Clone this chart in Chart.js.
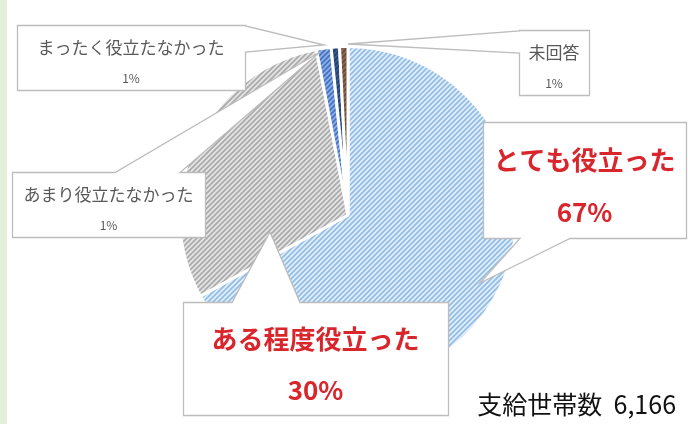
<!DOCTYPE html>
<html>
<head>
<meta charset="utf-8">
<script src="https://cdn.jsdelivr.net/npm/chart.js@4.4.1/dist/chart.umd.min.js"></script>
<style>
body { margin: 0; background: #fff; }
#wrap { position: relative; width: 688px; height: 424px; background: #fff; }
#strip { position: absolute; left: 0; top: 0; width: 7px; height: 424px; background: #e2efda; }
</style>
</head>
<body>
<div id="wrap">
  <div id="strip"></div>
  <canvas id="pie-chartcanvas"></canvas>
</div>
<script>
// data
var categories = ["とても役立った", "ある程度役立った", "あまり役立たなかった", "まったく役立たなかった", "未回答"];
var shares = [67, 30, 1.4, 0.8, 0.8];
var totalLabel = "支給世帯数  6,166";

// striped fill like the excel pattern
function hatch(bg, fg, size, lw) {
    var c = document.createElement("canvas");
    c.width = size;
    c.height = size;
    var g = c.getContext("2d");
    g.fillStyle = bg;
    g.fillRect(0, 0, size, size);
    g.strokeStyle = fg;
    g.lineWidth = lw;
    g.beginPath();
    g.moveTo(-1, size + 1); g.lineTo(size + 1, -1);
    g.moveTo(-size / 2 - 1, size / 2 + 1); g.lineTo(size / 2 + 1, -size / 2 - 1);
    g.moveTo(size / 2 - 1, size * 1.5 + 1); g.lineTo(size * 1.5 + 1, size / 2 - 1);
    g.stroke();
    return g.createPattern(c, "repeat");
}

var fills = [
    hatch("#e2eef9", "#92bde6", 5, 1.7),
    hatch("#e4e4e4", "#aaaaaa", 5, 1.7),
    hatch("#8eaee3", "#4472c4", 5, 1.7),
    hatch("#3a5c94", "#22406f", 5, 1.7),
    hatch("#8a6a55", "#6b4a35", 5, 1.7)
];

// callout boxes (box, pointer side, pointer base, pointer tip)
var callouts = [
    { i: 3, x: 17, y: 25, w: 228, h: 65, side: "right", a: 26, b: 52, tip: [324, 45], big: false },
    { i: 4, x: 519, y: 30, w: 70, h: 65, side: "left", a: 31, b: 53, tip: [348, 44], big: false },
    { i: 2, x: 12, y: 172, w: 193, h: 65, side: "top", a: 115, b: 180, tip: [320, 52], big: false },
    { i: 0, x: 483, y: 122, w: 203, h: 116, side: "bottom", a: 520, b: 570, tip: [480, 283], big: true },
    { i: 1, x: 183, y: 302, w: 265, h: 113, side: "top", a: 232, b: 300, tip: [270, 232], big: true }
];

function calloutPath(ctx, c) {
    var x = c.x + 0.5, y = c.y + 0.5, r = c.x + c.w + 0.5, btm = c.y + c.h + 0.5;
    ctx.beginPath();
    ctx.moveTo(x, y);
    if (c.side === "top") { ctx.lineTo(c.a, y); ctx.lineTo(c.tip[0], c.tip[1]); ctx.lineTo(c.b, y); }
    ctx.lineTo(r, y);
    if (c.side === "right") { ctx.lineTo(r, c.a); ctx.lineTo(c.tip[0], c.tip[1]); ctx.lineTo(r, c.b); }
    ctx.lineTo(r, btm);
    if (c.side === "bottom") { ctx.lineTo(c.b, btm); ctx.lineTo(c.tip[0], c.tip[1]); ctx.lineTo(c.a, btm); }
    ctx.lineTo(x, btm);
    if (c.side === "left") { ctx.lineTo(x, c.b); ctx.lineTo(c.tip[0], c.tip[1]); ctx.lineTo(x, c.a); }
    ctx.closePath();
}

var calloutPlugin = {
    id: "callouts",
    afterDraw: function(chart) {
        var ctx = chart.ctx;
        ctx.save();
        callouts.forEach(function(c) {
            calloutPath(ctx, c);
            ctx.fillStyle = "#ffffff";
            ctx.fill();
            ctx.strokeStyle = "#bdbdbd";
            ctx.lineWidth = 1.3;
            ctx.stroke();

            var cx = c.x + c.w / 2;
            var pct = Math.round(shares[c.i]) + "%";
            ctx.textAlign = "center";
            ctx.textBaseline = "middle";
            if (c.big) {
                ctx.fillStyle = "#d9262d";
                ctx.font = "bold 26px 'Noto Sans CJK JP'";
                ctx.fillText(categories[c.i], cx, c.y + c.h * 0.33);
                ctx.fillText(pct, cx, c.y + c.h * 0.78);
            } else {
                ctx.fillStyle = "#595959";
                ctx.font = "17px 'Noto Sans CJK JP'";
                ctx.fillText(categories[c.i], cx, c.y + c.h * 0.34);
                ctx.font = "12px 'Noto Sans CJK JP'";
                ctx.fillText(pct, cx, c.y + c.h * 0.82);
            }
        });

        // household count
        ctx.fillStyle = "#111111";
        ctx.font = "25px 'Noto Sans CJK JP'";
        ctx.textAlign = "right";
        ctx.textBaseline = "middle";
        ctx.fillText(totalLabel, 676, 404);
        ctx.restore();
    }
};

var ctx1 = document.getElementById("pie-chartcanvas");

var data1 = {
    labels: categories,
    datasets: [
        {
            data: shares,
            backgroundColor: fills,
            borderColor: "#ffffff",
            borderWidth: 3
        }
    ]
};

var options = {
    responsive: true,
    maintainAspectRatio: false,
    animation: false,
    layout: { padding: { left: 178, right: 170, top: 45, bottom: 39 } },
    plugins: {
        legend: { display: false },
        tooltip: { enabled: false },
        title: { display: false }
    }
};

var chart1 = new Chart(ctx1, {
    type: "pie",
    data: data1,
    options: options,
    plugins: [calloutPlugin]
});
</script>
</body>
</html>
